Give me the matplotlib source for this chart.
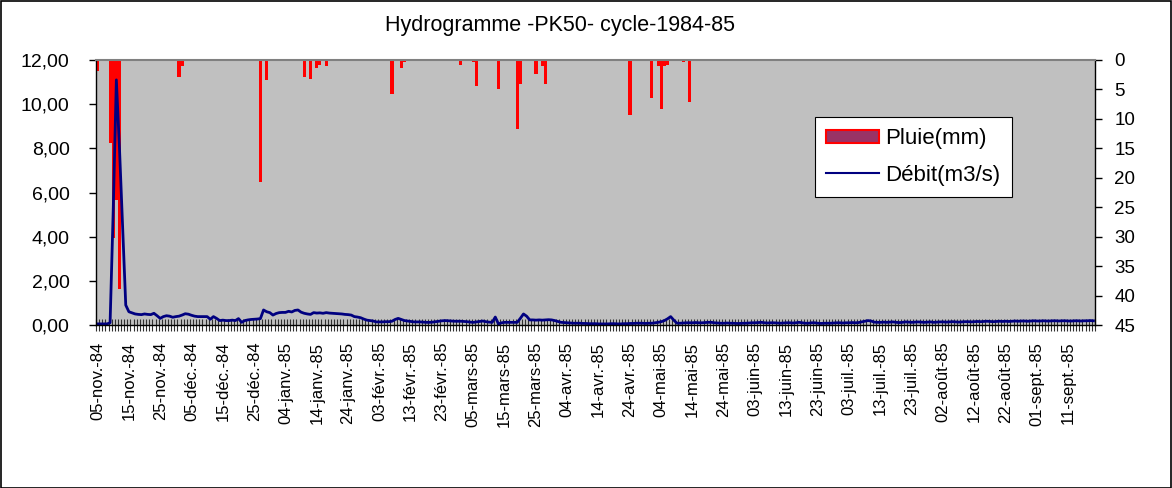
import matplotlib
matplotlib.use("Agg")
import matplotlib.pyplot as plt
from matplotlib.lines import Line2D
from matplotlib.patches import Patch, Rectangle
import numpy as np
import pandas as pd

plt.rcParams["font.family"] = ["Liberation Sans", "DejaVu Sans"]

debut = "1984-11-05"

# débit moyen journalier (m3/s), une ligne = 10 jours à partir du 05-nov.-84
debit = [
    0.05, 0.05, 0.05, 0.05, 0.10, 5.20, 11.10, 8.00, 4.50, 0.90,
    0.60, 0.55, 0.50, 0.48, 0.47, 0.50, 0.48, 0.47, 0.53, 0.42,
    0.30, 0.38, 0.42, 0.40, 0.35, 0.38, 0.40, 0.45, 0.51, 0.49,
    0.44, 0.40, 0.38, 0.38, 0.38, 0.38, 0.26, 0.38, 0.30, 0.20,
    0.22, 0.20, 0.20, 0.22, 0.20, 0.29, 0.12, 0.20, 0.23, 0.25,
    0.26, 0.27, 0.29, 0.68, 0.60, 0.56, 0.45, 0.52, 0.56, 0.57,
    0.57, 0.62, 0.59, 0.66, 0.68, 0.58, 0.53, 0.50, 0.48, 0.56,
    0.54, 0.55, 0.53, 0.56, 0.54, 0.53, 0.52, 0.51, 0.50, 0.48,
    0.47, 0.45, 0.38, 0.36, 0.33, 0.27, 0.22, 0.20, 0.18, 0.14,
    0.14, 0.14, 0.15, 0.15, 0.17, 0.25, 0.30, 0.25, 0.20, 0.18,
    0.16, 0.14, 0.14, 0.14, 0.13, 0.12, 0.12, 0.13, 0.15, 0.17,
    0.19, 0.20, 0.19, 0.18, 0.17, 0.17, 0.17, 0.16, 0.15, 0.13,
    0.12, 0.14, 0.16, 0.18, 0.15, 0.13, 0.12, 0.36, 0.05, 0.10,
    0.12, 0.12, 0.12, 0.12, 0.12, 0.30, 0.50, 0.40, 0.23, 0.23,
    0.22, 0.23, 0.22, 0.23, 0.24, 0.23, 0.20, 0.16, 0.12, 0.11,
    0.10, 0.09, 0.08, 0.08, 0.08, 0.07, 0.07, 0.06, 0.06, 0.06,
    0.05, 0.05, 0.05, 0.05, 0.06, 0.06, 0.05, 0.05, 0.06, 0.06,
    0.07, 0.07, 0.08, 0.08, 0.08, 0.07, 0.08, 0.08, 0.10, 0.12,
    0.15, 0.20, 0.28, 0.38, 0.22, 0.08, 0.08, 0.09, 0.10, 0.10,
    0.10, 0.11, 0.10, 0.10, 0.11, 0.12, 0.12, 0.10, 0.09, 0.08,
    0.08, 0.09, 0.08, 0.08, 0.07, 0.07, 0.08, 0.08, 0.09, 0.10,
    0.10, 0.11, 0.12, 0.10, 0.09, 0.10, 0.10, 0.09, 0.08, 0.09,
    0.10, 0.10, 0.09, 0.10, 0.12, 0.10, 0.08, 0.08, 0.10, 0.10,
    0.08, 0.07, 0.08, 0.08, 0.08, 0.09, 0.10, 0.10, 0.09, 0.10,
    0.10, 0.11, 0.10, 0.11, 0.14, 0.17, 0.20, 0.18, 0.13, 0.12,
    0.12, 0.13, 0.12, 0.13, 0.14, 0.12, 0.11, 0.12, 0.14, 0.13,
    0.12, 0.13, 0.14, 0.13, 0.12, 0.13, 0.14, 0.12, 0.13, 0.14,
    0.14, 0.13, 0.14, 0.15, 0.14, 0.13, 0.14, 0.15, 0.15, 0.14,
    0.15, 0.16, 0.15, 0.16, 0.17, 0.16, 0.15, 0.16, 0.17, 0.16,
    0.17, 0.16, 0.17, 0.18, 0.17, 0.18, 0.18, 0.17, 0.18, 0.19,
    0.18, 0.18, 0.19, 0.18, 0.18, 0.19, 0.19, 0.18, 0.19, 0.19,
    0.18, 0.18, 0.19, 0.19, 0.18, 0.19, 0.19, 0.20, 0.19,
]

# jours de pluie et hauteurs (mm)
pluie_dates = [
    "1984-11-05", "1984-11-09", "1984-11-10", "1984-11-11", "1984-11-12",
    "1984-12-01", "1984-12-02", "1984-12-27", "1984-12-29",
    "1985-01-10", "1985-01-12", "1985-01-14", "1985-01-15", "1985-01-17",
    "1985-02-07", "1985-02-10", "1985-02-11",
    "1985-03-01", "1985-03-05", "1985-03-06", "1985-03-13", "1985-03-19",
    "1985-03-20", "1985-03-25", "1985-03-27", "1985-03-28",
    "1985-04-24", "1985-05-01", "1985-05-03", "1985-05-04", "1985-05-05",
    "1985-05-06", "1985-05-11", "1985-05-13",
]
pluie_mm = [
    1.9, 14.1, 30.2, 23.8, 38.9,
    2.9, 1.0, 20.7, 3.4,
    2.9, 3.2, 1.4, 0.85, 1.0,
    5.7, 1.4, 0.3,
    0.85, 0.3, 4.4, 5.0, 11.7,
    4.1, 2.4, 1.0, 4.1,
    9.3, 6.5, 1.0, 8.3, 1.0,
    0.9, 0.4, 7.2,
]

etiquettes = [
    "05-nov.-84", "15-nov.-84", "25-nov.-84", "05-déc.-84", "15-déc.-84",
    "25-déc.-84", "04-janv.-85", "14-janv.-85", "24-janv.-85", "03-févr.-85",
    "13-févr.-85", "23-févr.-85", "05-mars-85", "15-mars-85", "25-mars-85",
    "04-avr.-85", "14-avr.-85", "24-avr.-85", "04-mai-85", "14-mai-85",
    "24-mai-85", "03-juin-85", "13-juin-85", "23-juin-85", "03-juil.-85",
    "13-juil.-85", "23-juil.-85", "02-août-85", "12-août-85", "22-août-85",
    "01-sept.-85", "11-sept.-85",
]

n = len(debit)
jours = np.arange(n)
j_pluie = (pd.to_datetime(pluie_dates) - pd.Timestamp(debut)).days.values

W, H = 1172, 488
fig = plt.figure(figsize=(W / 100, H / 100), dpi=100)
ax = fig.add_axes([96 / W, 1 - 325 / H, 999 / W, 265 / H])
ax2 = ax.twinx()

# la courbe de débit passe devant les barres de pluie
ax.set_zorder(ax2.get_zorder() + 1)
ax.patch.set_visible(False)
ax2.patch.set_visible(True)
ax2.set_facecolor("#C0C0C0")

ax2.bar(j_pluie, pluie_mm, width=1.0, color="#FF0000", linewidth=0)
ax2.set_ylim(45, 0)
ax2.set_yticks(range(0, 50, 5))
ax2.tick_params(axis="y", direction="out", length=5, width=1, labelsize=13.5, pad=9)
for s in ax2.spines.values():
    s.set_visible(False)

ax.plot(jours, debit, color="#000080", lw=2.0, solid_joinstyle="round")
ax.set_xlim(-0.5, n - 0.5)
ax.set_ylim(0, 12)
yt = np.arange(0, 13, 2)
ax.set_yticks(yt)
ax.set_yticklabels([f"{v:.2f}".replace(".", ",") for v in yt])
ax.tick_params(axis="y", direction="out", length=5, width=1, labelsize=14, pad=14)

ax.set_xticks(np.arange(0, n, 10)[:len(etiquettes)])
ax.set_xticklabels(etiquettes, rotation=90, ha="center", va="top")
ax.tick_params(axis="x", which="major", length=0, labelsize=12, pad=12)
ax.set_xticks(np.arange(-0.5, n, 1), minor=True)
ax.tick_params(axis="x", which="minor", direction="inout", length=9, width=0.8,
               color="#303030")

for side in ("left", "bottom", "right"):
    ax.spines[side].set_color("black")
    ax.spines[side].set_linewidth(1)
ax.spines["top"].set_color("#808080")
ax.spines["top"].set_linewidth(1.5)

poignees = [
    Patch(facecolor="#993366", edgecolor="#FF0000", linewidth=1.5, label="Pluie(mm)"),
    Line2D([], [], color="#000080", lw=1.5, label="Débit(m3/s)"),
]
leg = ax.legend(handles=poignees, loc="upper left",
                bbox_to_anchor=(0.7197, 0.785, 0.197, 0.0), mode="expand",
                fontsize=16, frameon=True, fancybox=False, framealpha=1,
                edgecolor="black", handlelength=2.4, handleheight=0.55,
                handletextpad=0.25, labelspacing=0.7, borderpad=0.5,
                borderaxespad=0)
leg.get_frame().set_linewidth(0.8)

fig.text(560 / W, 1 - 25 / H, "Hydrogramme -PK50- cycle-1984-85",
         ha="center", va="center", fontsize=15.5)

fig.add_artist(Rectangle((0.5 / W, 0.5 / H), (W - 1.5) / W, (H - 1.5) / H,
                         transform=fig.transFigure, fill=False,
                         edgecolor="black", lw=1.2))

fig.savefig("out.png", dpi=100)
